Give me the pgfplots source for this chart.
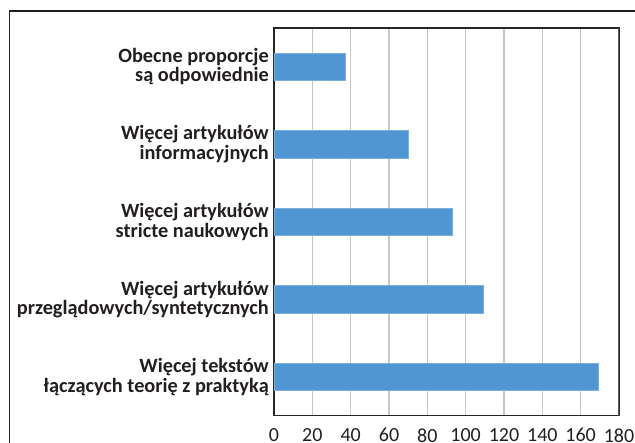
\documentclass[border=0pt]{standalone}
\usepackage{pgfplots}
\pgfplotsset{compat=1.18}
\usepackage{fontspec}
\setmainfont{Carlito}
\definecolor{barblue}{RGB}{79,150,211}
\definecolor{txt}{RGB}{35,31,32}
\begin{document}
\begin{tikzpicture}
\begin{axis}[
    at={(274bp,27.3bp)}, anchor=south west,
    scale only axis, width=345bp, height=387.7bp,
    xbar, bar width=27.5bp,
    xmin=0, xmax=180, xtick={0,20,...,180},
    ymin=-0.5, ymax=4.5, y dir=reverse,
    ytick={0,...,4},
    yticklabels={{Obecne proporcje\\są odpowiednie},
                 {Więcej artykułów\\informacyjnych},
                 {Więcej artykułów\\stricte naukowych},
                 {Więcej artykułów\\przeglądowych/syntetycznych},
                 {Więcej tekstów\\łączących teorię z praktyką}},
    yticklabel style={anchor=east, align=right, inner sep=0pt, xshift=-5bp,
        text=txt, font=\bfseries\fontsize{20.3bp}{19.5bp}\selectfont},
    xticklabel style={anchor=north, inner sep=0pt, yshift=-12.5bp,
        text=txt, font=\fontsize{20bp}{21bp}\selectfont},
    /pgf/number format/assume math mode=true,
    major tick length=0pt,
    xmajorgrids, major grid style={draw=black!22, line width=1.4bp},
    axis line style={draw=black!85, line width=1.2bp},
]
\addplot[fill=barblue, draw=barblue!75!white, line width=0.6bp]
  coordinates {(37,0) (70,1) (93,2) (109,3) (169,4)};
\draw[black!65, line width=2bp] (rel axis cs:1,0) -- (rel axis cs:1,1);
\end{axis}
\draw[black!88, line width=1.5bp] (9.3bp,-20bp) -- (9.3bp,432bp) -- (660bp,432bp);
\pgfresetboundingbox
\path[use as bounding box] (0,0) rectangle (635bp,443bp);
\end{tikzpicture}
\end{document}
